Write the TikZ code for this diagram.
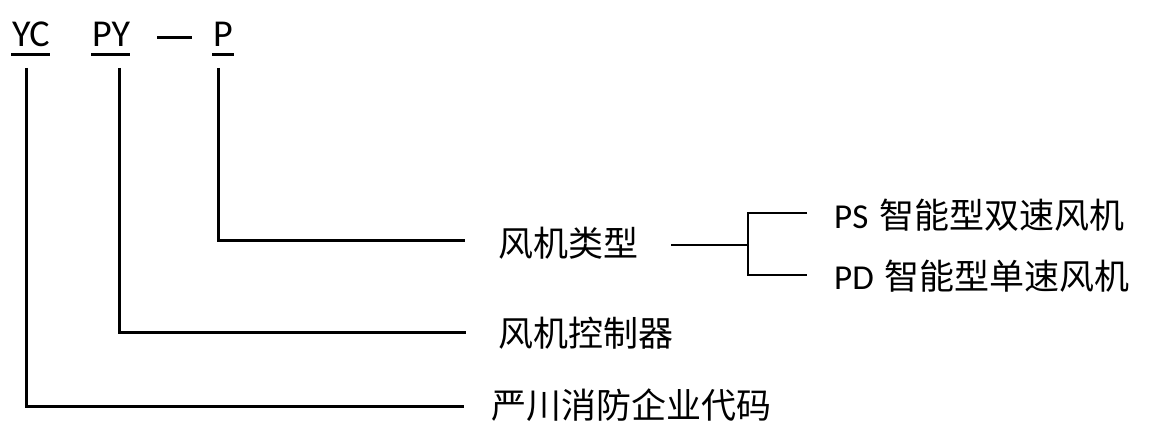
\documentclass[tikz,border=0pt]{standalone}
\usepackage{fontspec}
\setmainfont{Carlito}
\newfontfamily\cjk{Noto Sans CJK SC}
\begin{document}
\begin{tikzpicture}[x=1pt,y=-1pt,
  code/.style={font=\fontsize{38}{44}\selectfont, inner sep=0pt, anchor=base west},
  zh/.style={font=\cjk\fontsize{35}{40}\selectfont, inner sep=0pt, anchor=west},
  opt/.style={font=\fontsize{35}{40}\selectfont, inner sep=0pt, anchor=west},
  ln/.style={line width=3pt},
  bl/.style={line width=2.6pt}]
\useasboundingbox (0,0) rectangle (1154,443);
% code letters
\node[code] (yc) at (12,47) {YC};
\node[code] (py) at (92,47) {PY};
\node[code] (p) at (213,47) {P};
\coordinate (d1) at (157,38);
\coordinate (d2) at (192,38);
\draw[ln] (d1) -- (d2);
% underlines
\draw[ln] ([yshift=-8,xshift=-1]yc.base west) -- ([yshift=-8]yc.base east);
\draw[ln] ([yshift=-8,xshift=-1]py.base west) -- ([yshift=-8]py.base east);
\draw[ln] ([yshift=-8,xshift=-1]p.base west) -- ([yshift=-8,xshift=1]p.base east);
% labels
\node[zh] (t1) at (498,243) {风机类型};
\node[zh] (t2) at (498,333) {风机控制器};
\node[zh] (t3) at (491,405) {严川消防企业代码};
\node[opt] (t4) at (834,215) {PS\hspace{11pt}{\cjk\fontsize{35}{40}\selectfont 智能型双速风机}};
\node[opt] (t5) at (834,276) {PD\hspace{11pt}{\cjk\fontsize{35}{40}\selectfont 智能型单速风机}};
% connectors
\coordinate (v1) at (26,68);
\coordinate (v2) at (119,68);
\coordinate (v3) at (218,68);
\coordinate (e1) at (465,241);
\coordinate (e2) at (466,333);
\coordinate (e3) at (464,407);
\draw[ln] (v3) |- (e1);
\draw[ln] (v2) |- (e2);
\draw[ln] (v1) |- (e3);
% branch
\coordinate (b0) at (671,245);
\coordinate (bj) at (748,245);
\coordinate (bt) at (807,213);
\coordinate (bb) at (807,275);
\draw[bl] (b0) -- (bj);
\draw[bl] (bt) -| (bj) |- (bb);
\end{tikzpicture}
\end{document}
